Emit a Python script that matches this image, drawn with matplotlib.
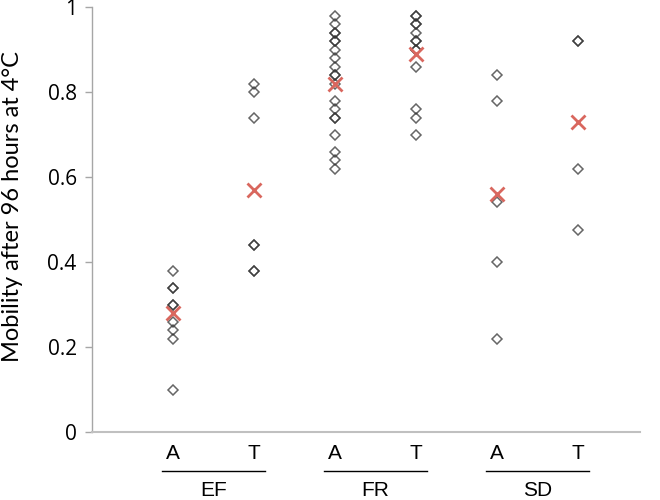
import matplotlib
matplotlib.use("Agg")
import matplotlib.pyplot as plt
import matplotlib.transforms as mtransforms
import numpy as np

# categories (group, treatment) in plotting order
groups = ["EF", "FR", "SD"]
treatments = ["A", "T"]

# individual mobility values per column
ef_a = [0.38, 0.34, 0.34, 0.30, 0.30, 0.26, 0.24, 0.22, 0.10]
ef_t = [0.82, 0.80, 0.74, 0.44, 0.44, 0.38, 0.38]
fr_a = [0.98, 0.96, 0.94, 0.94, 0.92, 0.92, 0.90, 0.88, 0.86, 0.84, 0.84,
        0.82, 0.78, 0.76, 0.74, 0.74, 0.70, 0.66, 0.64, 0.62]
fr_t = [0.98, 0.98, 0.96, 0.96, 0.94, 0.92, 0.92, 0.90, 0.90, 0.86, 0.76,
        0.74, 0.70]
sd_a = [0.84, 0.78, 0.54, 0.40, 0.22]
sd_t = [0.92, 0.92, 0.62, 0.475]
columns = [ef_a, ef_t, fr_a, fr_t, sd_a, sd_t]

# column means (red crosses)
means = [0.28, 0.57, 0.82, 0.89, 0.56, 0.73]

fig = plt.figure(figsize=(6.6, 5.0), dpi=100)
ax = fig.add_axes([92 / 660, 68 / 500, (640 - 92) / 660, 425 / 500])

positions = np.arange(1, len(columns) + 1)
for xpos, vals in zip(positions, columns):
    ax.plot([xpos] * len(vals), vals, linestyle="none", marker="D",
            markersize=5.5, markerfacecolor="none", markeredgecolor="#333333",
            markeredgewidth=1.1, alpha=0.75, zorder=2)

ax.plot(positions, means, linestyle="none", marker="x", markersize=10,
        markeredgewidth=2, color="#d9675e", zorder=3)

ax.set_xlim(0, (640 - 92) / 81)
ax.set_ylim(0, 1)
ax.set_yticks([0, 0.2, 0.4, 0.6, 0.8, 1])
ax.set_yticklabels(["0", "0.2", "0.4", "0.6", "0.8", "1"])
ax.set_xticks([])

for side in ["top", "right"]:
    ax.spines[side].set_visible(False)
ax.spines["left"].set_color("#a6a6a6")
ax.spines["left"].set_linewidth(1)
ax.spines["bottom"].set_color("#c0c0c0")
ax.spines["bottom"].set_linewidth(1.5)

ax.tick_params(axis="y", direction="out", length=5, width=1, color="#a6a6a6",
               labelsize=15, pad=6)
for lbl in ax.get_yticklabels():
    lbl.set_family("Open Sans")

ax.set_ylabel("Mobility after 96 hours at 4°C", fontsize=17, family="Lato")
ax.yaxis.set_label_coords(-0.126, 0.53)

# two-level category labels below the axis
trans = mtransforms.blended_transform_factory(ax.transData, ax.transAxes)
for i, grp in enumerate(groups):
    xa = positions[2 * i]
    xt = positions[2 * i + 1]
    for xpos, tr in zip([xa, xt], treatments):
        ax.text(xpos, -0.05, tr, transform=trans, ha="center", va="center",
                fontsize=15, family="Liberation Sans")
    ax.plot([xa - 0.13, xt + 0.13], [-0.092, -0.092], transform=trans,
            color="black", linewidth=1, clip_on=False)
    ax.text((xa + xt) / 2, -0.137, grp, transform=trans, ha="center",
            va="center", fontsize=15, family="Liberation Sans")

fig.savefig("out.png", dpi=100)
